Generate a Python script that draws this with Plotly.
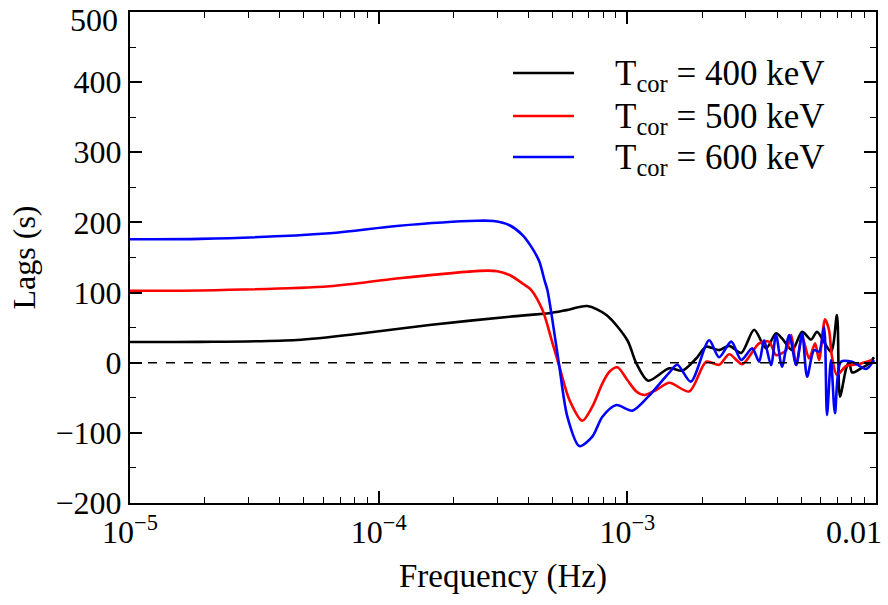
import plotly.graph_objects as go

# ---- data (frequency in Hz, lag in s) ----
f_400 = [1.00e-5, 1.91e-5, 4.69e-5, 8.63e-5, 1.60e-4, 3.36e-4, 5.00e-4, 5.69e-4, 6.90e-4,
         8.24e-4, 1.00e-3, 1.087e-3, 1.213e-3, 1.475e-3, 1.663e-3, 1.892e-3,
         2.075e-3, 2.339e-3, 2.570e-3, 2.871e-3, 3.236e-3, 3.614e-3, 3.963e-3, 4.188e-3,
         4.603e-3, 5.047e-3, 5.483e-3, 5.794e-3, 6.592e-3, 6.966e-3, 7.161e-3, 7.586e-3,
         7.798e-3, 8.017e-3, 8.710e-3, 9.376e-3, 9.817e-3]
lag_400 = [29.5, 29.7, 32.4, 42, 53.8, 65.6, 71.3, 75, 80.8,
           68, 32, -1, -25.7, -8, -11.4, 6,
           22.8, 18, 24, 14, 47, 20.5, 42, 34.8,
           18, 44, 33, 44, 15.7, 68, -48.5, -8,
           1.5, -14, -8, -1, 7.7]

f_500 = [1.00e-5, 1.91e-5, 6.36e-5, 1.18e-4, 2.55e-4, 3.0e-4, 3.36e-4, 3.79e-4, 4.10e-4,
         4.56e-4, 5.00e-4, 5.33e-4, 5.85e-4, 6.59e-4, 7.23e-4, 7.94e-4, 8.47e-4, 9.12e-4,
         1.00e-3, 1.087e-3, 1.17e-3, 1.306e-3, 1.475e-3, 1.774e-3, 2.075e-3, 2.339e-3,
         2.570e-3, 2.900e-3, 3.388e-3, 3.715e-3, 3.963e-3, 4.355e-3, 4.560e-3, 4.775e-3,
         5.047e-3, 5.383e-3, 5.689e-3, 5.902e-3, 6.237e-3, 6.471e-3, 6.653e-3, 6.966e-3,
         7.586e-3, 8.551e-3, 9.638e-3]
lag_500 = [102.7, 103, 109, 120, 131, 130.5, 125, 113, 104,
           75, 28, -5.7, -53, -82.7, -62.7, -29.4, -12.8, -6.6,
           -24.7, -41, -46, -39, -28.5, -41, 1.4, -3,
           12, -2, 27.6, 30, 11, 18, 39.5, -3,
           37, 6, 27.6, 3.8, 61.8, 46.6, 8.6, -17.5,
           -4.7, -1.9, 3.8]

f_600 = [1.00e-5, 1.91e-5, 6.36e-5, 1.18e-4, 2.48e-4, 2.9e-4, 3.36e-4, 3.79e-4, 4.15e-4,
         4.43e-4, 4.64e-4, 4.77e-4, 5.00e-4, 5.33e-4, 5.74e-4, 6.41e-4, 7.23e-4, 7.94e-4,
         9.04e-4, 1.047e-3, 1.213e-3, 1.475e-3, 1.589e-3, 1.800e-3, 2.133e-3, 2.339e-3,
         2.618e-3, 2.871e-3, 3.178e-3, 3.388e-3, 3.548e-3, 3.784e-3, 3.963e-3, 4.188e-3,
         4.477e-3, 4.775e-3, 5.047e-3, 5.284e-3, 5.636e-3, 5.902e-3, 6.180e-3, 6.353e-3,
         6.592e-3, 6.839e-3, 7.228e-3, 8.017e-3, 9.120e-3, 9.817e-3]
lag_600 = [176, 176.5, 184.5, 195, 202.4, 202, 196, 182, 163,
           144, 118, 103.6, 60, -5.7, -77, -118.8, -105.5, -77,
           -60.3, -68.4, -48.4, -14, -3, -27, 32, 7.7,
           30, 4, 20.5, 1.4, 32, -3.3, 39.5, -5.7,
           39.5, -3.3, 42, -20, 18, 15.7, 51, -74.6,
           3.8, -72, 1.4, 1.4, -9, 3.8]

series_labels = ["T<sub>cor</sub> = 400 keV", "T<sub>cor</sub> = 500 keV", "T<sub>cor</sub> = 600 keV"]
series_colors = ["#000000", "#ff0000", "#0000ff"]

x_tickvals = [1e-5, 1e-4, 1e-3]
x_ticktext = ["10<sup>\u22125</sup>", "10<sup>\u22124</sup>", "10<sup>\u22123</sup>"]
x_minor = [k * 10.0 ** e for e in (-5, -4, -3) for k in range(2, 10)]
y_tickvals = [-200, -100, 0, 100, 200, 300, 400]
y_ticktext = ["\u2212200", "\u2212100", "0", "100", "200", "300", "400"]

FONT = "Liberation Serif"
FS = 32

fig = go.Figure()
for fx, ly, col in zip([f_400, f_500, f_600], [lag_400, lag_500, lag_600], series_colors):
    fig.add_trace(go.Scatter(x=fx, y=ly, mode="lines",
                             line=dict(color=col, width=2.6, shape="spline", smoothing=0.8),
                             showlegend=False, hoverinfo="skip"))

# invisible trace on the mirrored (top/right) axes so their ticks are drawn
fig.add_trace(go.Scatter(x=[1e-5], y=[0], xaxis="x2", yaxis="y2", mode="markers",
                         marker=dict(opacity=0), showlegend=False, hoverinfo="skip"))

# zero reference line
fig.add_shape(type="line", xref="paper", x0=0, x1=1, yref="y", y0=0, y1=0,
              line=dict(color="black", width=1.5, dash="dash"))

tick_common = dict(ticks="inside", tickcolor="black", tickwidth=1.5, ticklen=12,
                   showgrid=False, zeroline=False, automargin=False)
minor_x = dict(ticks="inside", ticklen=6, tickwidth=1.2, tickcolor="black",
               tickmode="array", tickvals=x_minor, showgrid=False)
minor_y = dict(ticks="inside", ticklen=6, tickwidth=1.2, tickcolor="black",
               dtick=50, showgrid=False)

fig.update_layout(
    xaxis=dict(type="log", range=[-5, -2], tickmode="array",
               tickvals=x_tickvals, ticktext=x_ticktext, minor=minor_x,
               showline=True, linecolor="black", linewidth=2, mirror=True,
               tickfont=dict(family=FONT, size=FS, color="black"),
               ticklabeloverflow="allow",
               title=dict(text="Frequency (Hz)", font=dict(family=FONT, size=33, color="black"),
                          standoff=14),
               **tick_common),
    yaxis=dict(range=[-200, 500], tickmode="array", tickvals=y_tickvals, ticktext=y_ticktext,
               minor=minor_y,
               showline=True, linecolor="black", linewidth=2, mirror=True,
               tickfont=dict(family=FONT, size=FS, color="black"),
               ticklabeloverflow="allow",
               title=dict(text="Lags (s)", font=dict(family=FONT, size=32, color="black"),
                          standoff=10),
               **tick_common),
    xaxis2=dict(type="log", range=[-5, -2], overlaying="x", side="top", anchor="y2",
                tickmode="array", tickvals=x_tickvals, minor=minor_x,
                showticklabels=False, showline=False, **tick_common),
    yaxis2=dict(range=[-200, 500], overlaying="y", side="right", anchor="x2",
                tickmode="linear", tick0=0, dtick=100, minor=minor_y,
                showticklabels=False, showline=False, **tick_common),
)

# end-of-axis labels, nudged inward as in the original figure
fig.add_annotation(text="0.01", xref="paper", yref="paper", x=1, y=0, xanchor="right",
                   yanchor="top", xshift=8, yshift=-9, showarrow=False,
                   font=dict(family=FONT, size=FS, color="black"))
fig.add_annotation(text="500", xref="paper", yref="paper", x=0, y=1, xanchor="right",
                   yanchor="middle", xshift=-10, yshift=-8, showarrow=False,
                   font=dict(family=FONT, size=FS, color="black"))

# legend drawn by hand
leg_y = [0.8758, 0.7882, 0.7047]
for lab, col, yy in zip(series_labels, series_colors, leg_y):
    fig.add_shape(type="line", xref="paper", yref="paper", x0=0.5134, x1=0.5952, y0=yy, y1=yy,
                  line=dict(color=col, width=2.6))
    fig.add_annotation(text=lab, xref="paper", yref="paper", x=0.648, y=yy, xanchor="left",
                       yanchor="middle", yshift=-3, showarrow=False,
                       font=dict(family=FONT, size=35, color="black"))

fig.update_layout(width=888, height=605, margin=dict(l=130, r=12, t=12, b=102),
                  paper_bgcolor="white", plot_bgcolor="white",
                  font=dict(family=FONT, size=FS, color="black"))

fig.write_html("out.html")
